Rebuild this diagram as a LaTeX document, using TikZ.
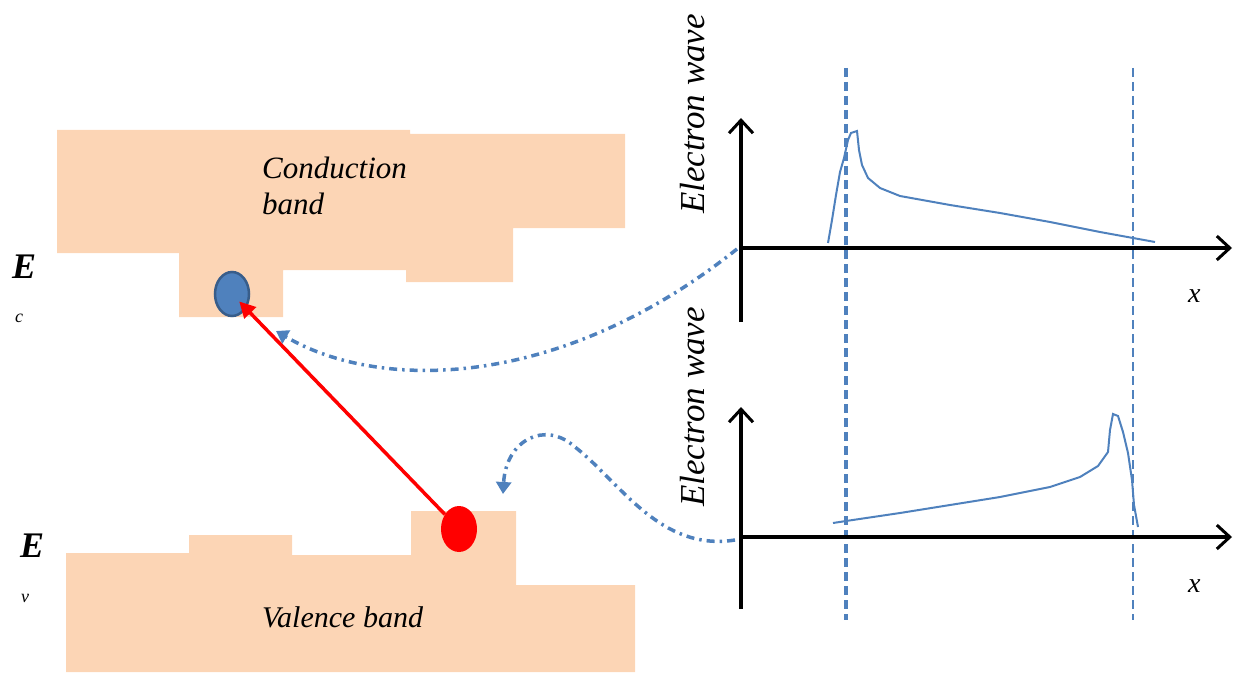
\documentclass[tikz,border=0pt]{standalone}
\usepackage{fontspec}
\setmainfont{Liberation Serif}
\usetikzlibrary{arrows.meta,shapes.geometric}
\definecolor{peach}{HTML}{FCD5B5}
\definecolor{wblue}{HTML}{4F81BD}
\definecolor{dblue}{HTML}{385D8A}
\begin{document}
\begin{tikzpicture}[x=1pt,y=-1pt,
  band/.style={fill=peach,draw=none},
  axisline/.style={line width=3.5pt,-{Straight Barb[length=13pt,width=24pt,line width=3pt]}},
  plainaxis/.style={line width=3.5pt},
  guide/.style={wblue,dash pattern=on 9pt off 5pt},
  wave/.style={wblue,line width=2pt},
  jump/.style={wblue,line width=3.5pt,dash pattern=on 8pt off 5pt on 2.5pt off 5pt,-{Triangle[length=12pt,width=15pt]}},
  lbl/.style={inner sep=0pt,font=\itshape\fontsize{30}{35}\selectfont},
  ylbl/.style={inner sep=0pt,rotate=90,font=\itshape\fontsize{35}{40}\selectfont},
  elbl/.style={inner sep=0pt,anchor=base west,font=\bfseries\itshape\fontsize{36}{40}\selectfont},
  sublbl/.style={inner sep=0pt,anchor=base west,font=\itshape\fontsize{18}{20}\selectfont}]
\useasboundingbox (0,0) rectangle (1236,674);
% bands
\fill[band] (57,130) -- (410,130) -- (410,134) -- (625,134) -- (625,228) -- (513,228) -- (513,282)
  -- (406,282) -- (406,270) -- (283,270) -- (283,317) -- (179,317) -- (179,253) -- (57,253) -- cycle;
\fill[band] (66,553) -- (189,553) -- (189,535) -- (292,535) -- (292,555) -- (411,555) -- (411,511)
  -- (516,511) -- (516,585) -- (635,585) -- (635,672) -- (66,672) -- cycle;
% band texts
\node[lbl,anchor=north west,align=left,font=\itshape\fontsize{31}{36}\selectfont] (cb) at (262,157) {Conduction\\band};
\node[lbl,anchor=base west] (vb) at (262,627) {Valence band};
% E labels
\node[elbl] (ec) at (12,278) {E};
\node[sublbl] (ecs) at (15,322) {c};
\node[elbl] (ev) at (20,557) {E};
\node[sublbl] (evs) at (21,602) {v};
% carriers
\node[ellipse,fill=wblue,draw=dblue,line width=2.5pt,minimum width=34pt,minimum height=44pt,inner sep=0pt] (blue) at (232,294) {};
\node[ellipse,fill=red,draw=none,minimum width=36pt,minimum height=46pt,inner sep=0pt] (redb) at (459,529) {};
\draw[red,line width=3.5pt,-{Triangle[length=16pt,width=16pt]},shorten >=-10pt] (redb) -- (blue);
% guide lines
\draw[guide,line width=3.5pt] (846,68) -- (846,620);
\draw[guide,line width=1.8pt] (1133,68) -- (1133,620);
% axes upper
\coordinate (o1) at (741,248);
\coordinate (t1) at (741,118);
\coordinate (b1) at (741,322);
\coordinate (r1) at (1232,248);
\draw[plainaxis] (b1) -- (o1);
\draw[axisline] (o1) -- (t1);
\draw[axisline] (o1) -- (r1);
% axes lower
\coordinate (o2) at (741,537);
\coordinate (t2) at (741,407);
\coordinate (b2) at (741,609);
\coordinate (r2) at (1232,537);
\draw[plainaxis] (b2) -- (o2);
\draw[axisline] (o2) -- (t2);
\draw[axisline] (o2) -- (r2);
% axis labels
\node[ylbl] (yl1) at (693,114) {Electron wave};
\node[ylbl] (yl2) at (693,407) {Electron wave};
\node[lbl,anchor=base west,font=\itshape\fontsize{28}{30}\selectfont] (x1) at (1188,302) {x};
\node[lbl,anchor=base west,font=\itshape\fontsize{28}{30}\selectfont] (x2) at (1188,592) {x};
% waves
\draw[wave] (828,243) -- (832,220) -- (836,195) -- (840,172) -- (844,158) -- (848,140) -- (851,133)
  -- (857,131) -- (859,150) -- (862,165) -- (868,178) -- (880,188) -- (900,196) -- (950,205)
  -- (1000,213) -- (1050,222) -- (1100,232) -- (1133,238) -- (1155,242);
\draw[wave] (833,523) -- (846,521) -- (900,513) -- (950,505) -- (1000,497) -- (1050,487) -- (1080,477)
  -- (1098,466) -- (1108,452) -- (1110,430) -- (1113,414) -- (1118,416) -- (1123,432) -- (1128,453)
  -- (1132,480) -- (1134,505) -- (1138,527);
% transitions
\coordinate (s1) at (737,249);
\coordinate (e1) at (276,331);
\draw[jump] (s1) .. controls (560,390) and (380,392) .. (e1);
\coordinate (s2) at (735,540);
\coordinate (m2) at (575,447);
\coordinate (e2) at (503,494);
\draw[jump] (s2) .. controls (660,552) and (620,482) .. (m2) .. controls (545,420) and (506,440) .. (e2);
\end{tikzpicture}
\end{document}
